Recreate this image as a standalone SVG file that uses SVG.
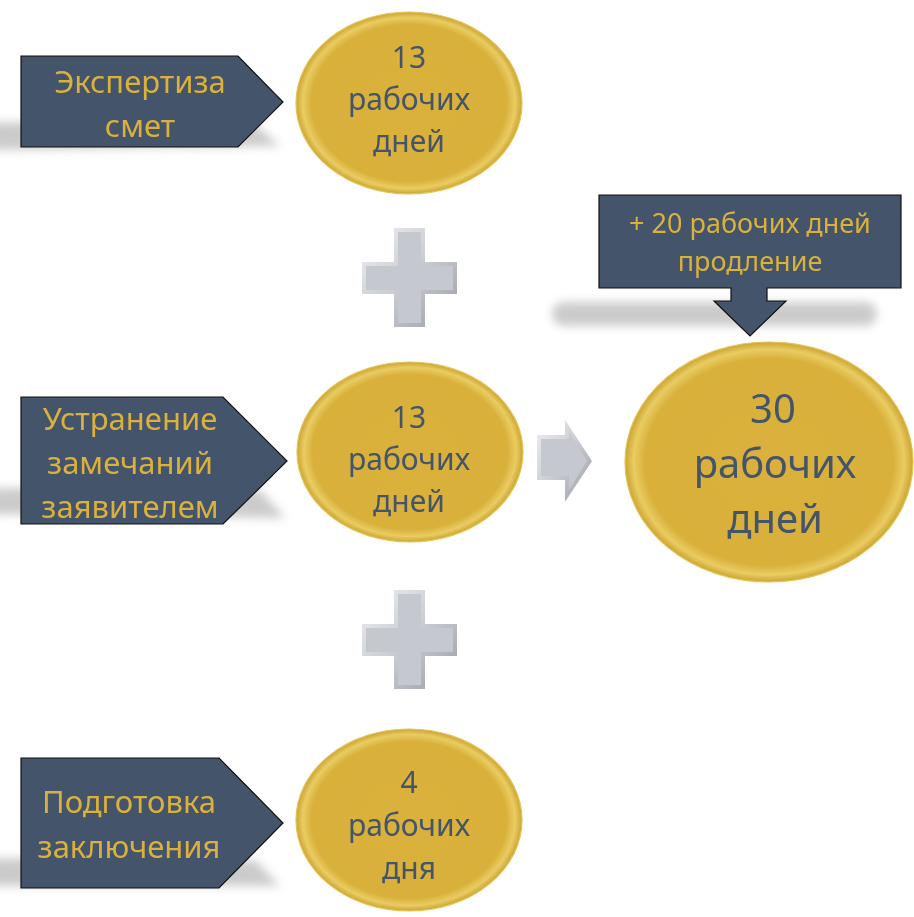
<svg xmlns="http://www.w3.org/2000/svg" width="914" height="917" viewBox="0 0 914 917">
<defs>
<style>
.pent{fill:#44546A;stroke:#111;stroke-width:1.2}
.ptxt{font-family:"Noto Sans","Open Sans",sans-serif;font-size:31px;fill:#D9B13C;text-anchor:middle}
.ctxt{font-family:"Noto Sans","Open Sans",sans-serif;font-size:30px;fill:#44546A;text-anchor:middle}
.btxt{font-family:"Noto Sans","Open Sans",sans-serif;font-size:40px;fill:#44546A;text-anchor:middle}
.otxt{font-family:"Noto Sans","Open Sans",sans-serif;font-size:27px;fill:#D9B13C;text-anchor:middle}
.coin{fill:url(#gold);stroke:#E3C456;stroke-width:1.2}
.shadow{fill:#C2C2C2;filter:url(#blur)}
</style>
<filter id="blur" x="-20%" y="-100%" width="140%" height="300%"><feGaussianBlur stdDeviation="5"/></filter>
<radialGradient id="gold" cx="0.5" cy="0.5" r="0.5">
<stop offset="0" stop-color="#D9B13C"/>
<stop offset="0.86" stop-color="#D8B03A"/>
<stop offset="0.94" stop-color="#E9CC62"/>
<stop offset="1" stop-color="#CCA431"/>
</radialGradient>
<linearGradient id="bevel" x1="0" y1="0" x2="1" y2="1">
<stop offset="0" stop-color="#F0F1F4"/>
<stop offset="0.5" stop-color="#C8CBD1"/>
<stop offset="1" stop-color="#9A9DA3"/>
</linearGradient>
<g id="plus">
<path d="M32,0 H63 V34 H95 V66 H63 V99 H32 V66 H0 V34 H32 Z" fill="url(#bevel)"/>
<path d="M36,4 H59 V38 H91 V62 H59 V95 H36 V62 H4 V38 H36 Z" fill="#C5C8CE"/>
</g>
</defs>
<rect width="914" height="917" fill="#FFFFFF"/>

<g id="shadows" opacity="0.85">
<polygon class="shadow" points="-10,122 255,124 280,146 -10,150"/>
<polygon class="shadow" points="-10,488 260,490 285,518 -10,514"/>
<polygon class="shadow" points="-10,858 255,860 280,886 -10,886"/>
<rect class="shadow" x="552" y="302" width="325" height="24" rx="12"/>
</g>

<g id="connectors">
<use href="#plus" x="362" y="228"/>
<use href="#plus" x="362" y="590"/>
<g id="arrow">
<path d="M537,435 H565 V420 L592,461 L565,502 V480 H537 Z" fill="url(#bevel)"/>
<path d="M541,439 H569 V432 L587,461 L569,490 V476 H541 Z" fill="#C5C8CE"/>
</g>
</g>

<g id="node-expertiza">
<path class="pent" d="M21,56 H238 L283,102 L238,147 H21 Z"/>
<text class="ptxt" x="140" y="93">Экспертиза</text>
<text class="ptxt" x="140" y="137">смет</text>
</g>
<g id="node-ustranenie">
<path class="pent" d="M21,397 H223 L287,461 L223,524 H21 Z"/>
<text class="ptxt" x="130" y="430">Устранение</text>
<text class="ptxt" x="130" y="474">замечаний</text>
<text class="ptxt" x="130" y="518">заявителем</text>
</g>
<g id="node-podgotovka">
<path class="pent" d="M21,758 H219 L283,823 L219,888 H21 Z"/>
<text class="ptxt" x="129" y="813">Подготовка</text>
<text class="ptxt" x="129" y="858">заключения</text>
</g>

<g id="node-days1">
<ellipse class="coin" cx="409" cy="103" rx="113" ry="91"/>
<text class="ctxt" x="409" y="68">13</text>
<text class="ctxt" x="409" y="110">рабочих</text>
<text class="ctxt" x="409" y="152">дней</text>
</g>
<g id="node-days2">
<ellipse class="coin" cx="410" cy="452" rx="113" ry="90"/>
<text class="ctxt" x="409" y="428">13</text>
<text class="ctxt" x="409" y="470">рабочих</text>
<text class="ctxt" x="409" y="512">дней</text>
</g>
<g id="node-days3">
<ellipse class="coin" cx="409" cy="820" rx="113" ry="91"/>
<text class="ctxt" x="409" y="793">4</text>
<text class="ctxt" x="409" y="836">рабочих</text>
<text class="ctxt" x="409" y="879">дня</text>
</g>
<g id="node-total">
<ellipse class="coin" cx="769" cy="462" rx="144" ry="120"/>
<text class="btxt" x="773" y="423">30</text>
<text class="btxt" x="775" y="478">рабочих</text>
<text class="btxt" x="775" y="533">дней</text>
</g>
<g id="node-extension">
<path class="pent" d="M599,195 H901 V288 H767 V301 H786 L750,336 L714,301 H731 V288 H599 Z"/>
<text class="otxt" x="750" y="233">+ 20 рабочих дней</text>
<text class="otxt" x="750" y="271">продление</text>
</g>
</svg>
